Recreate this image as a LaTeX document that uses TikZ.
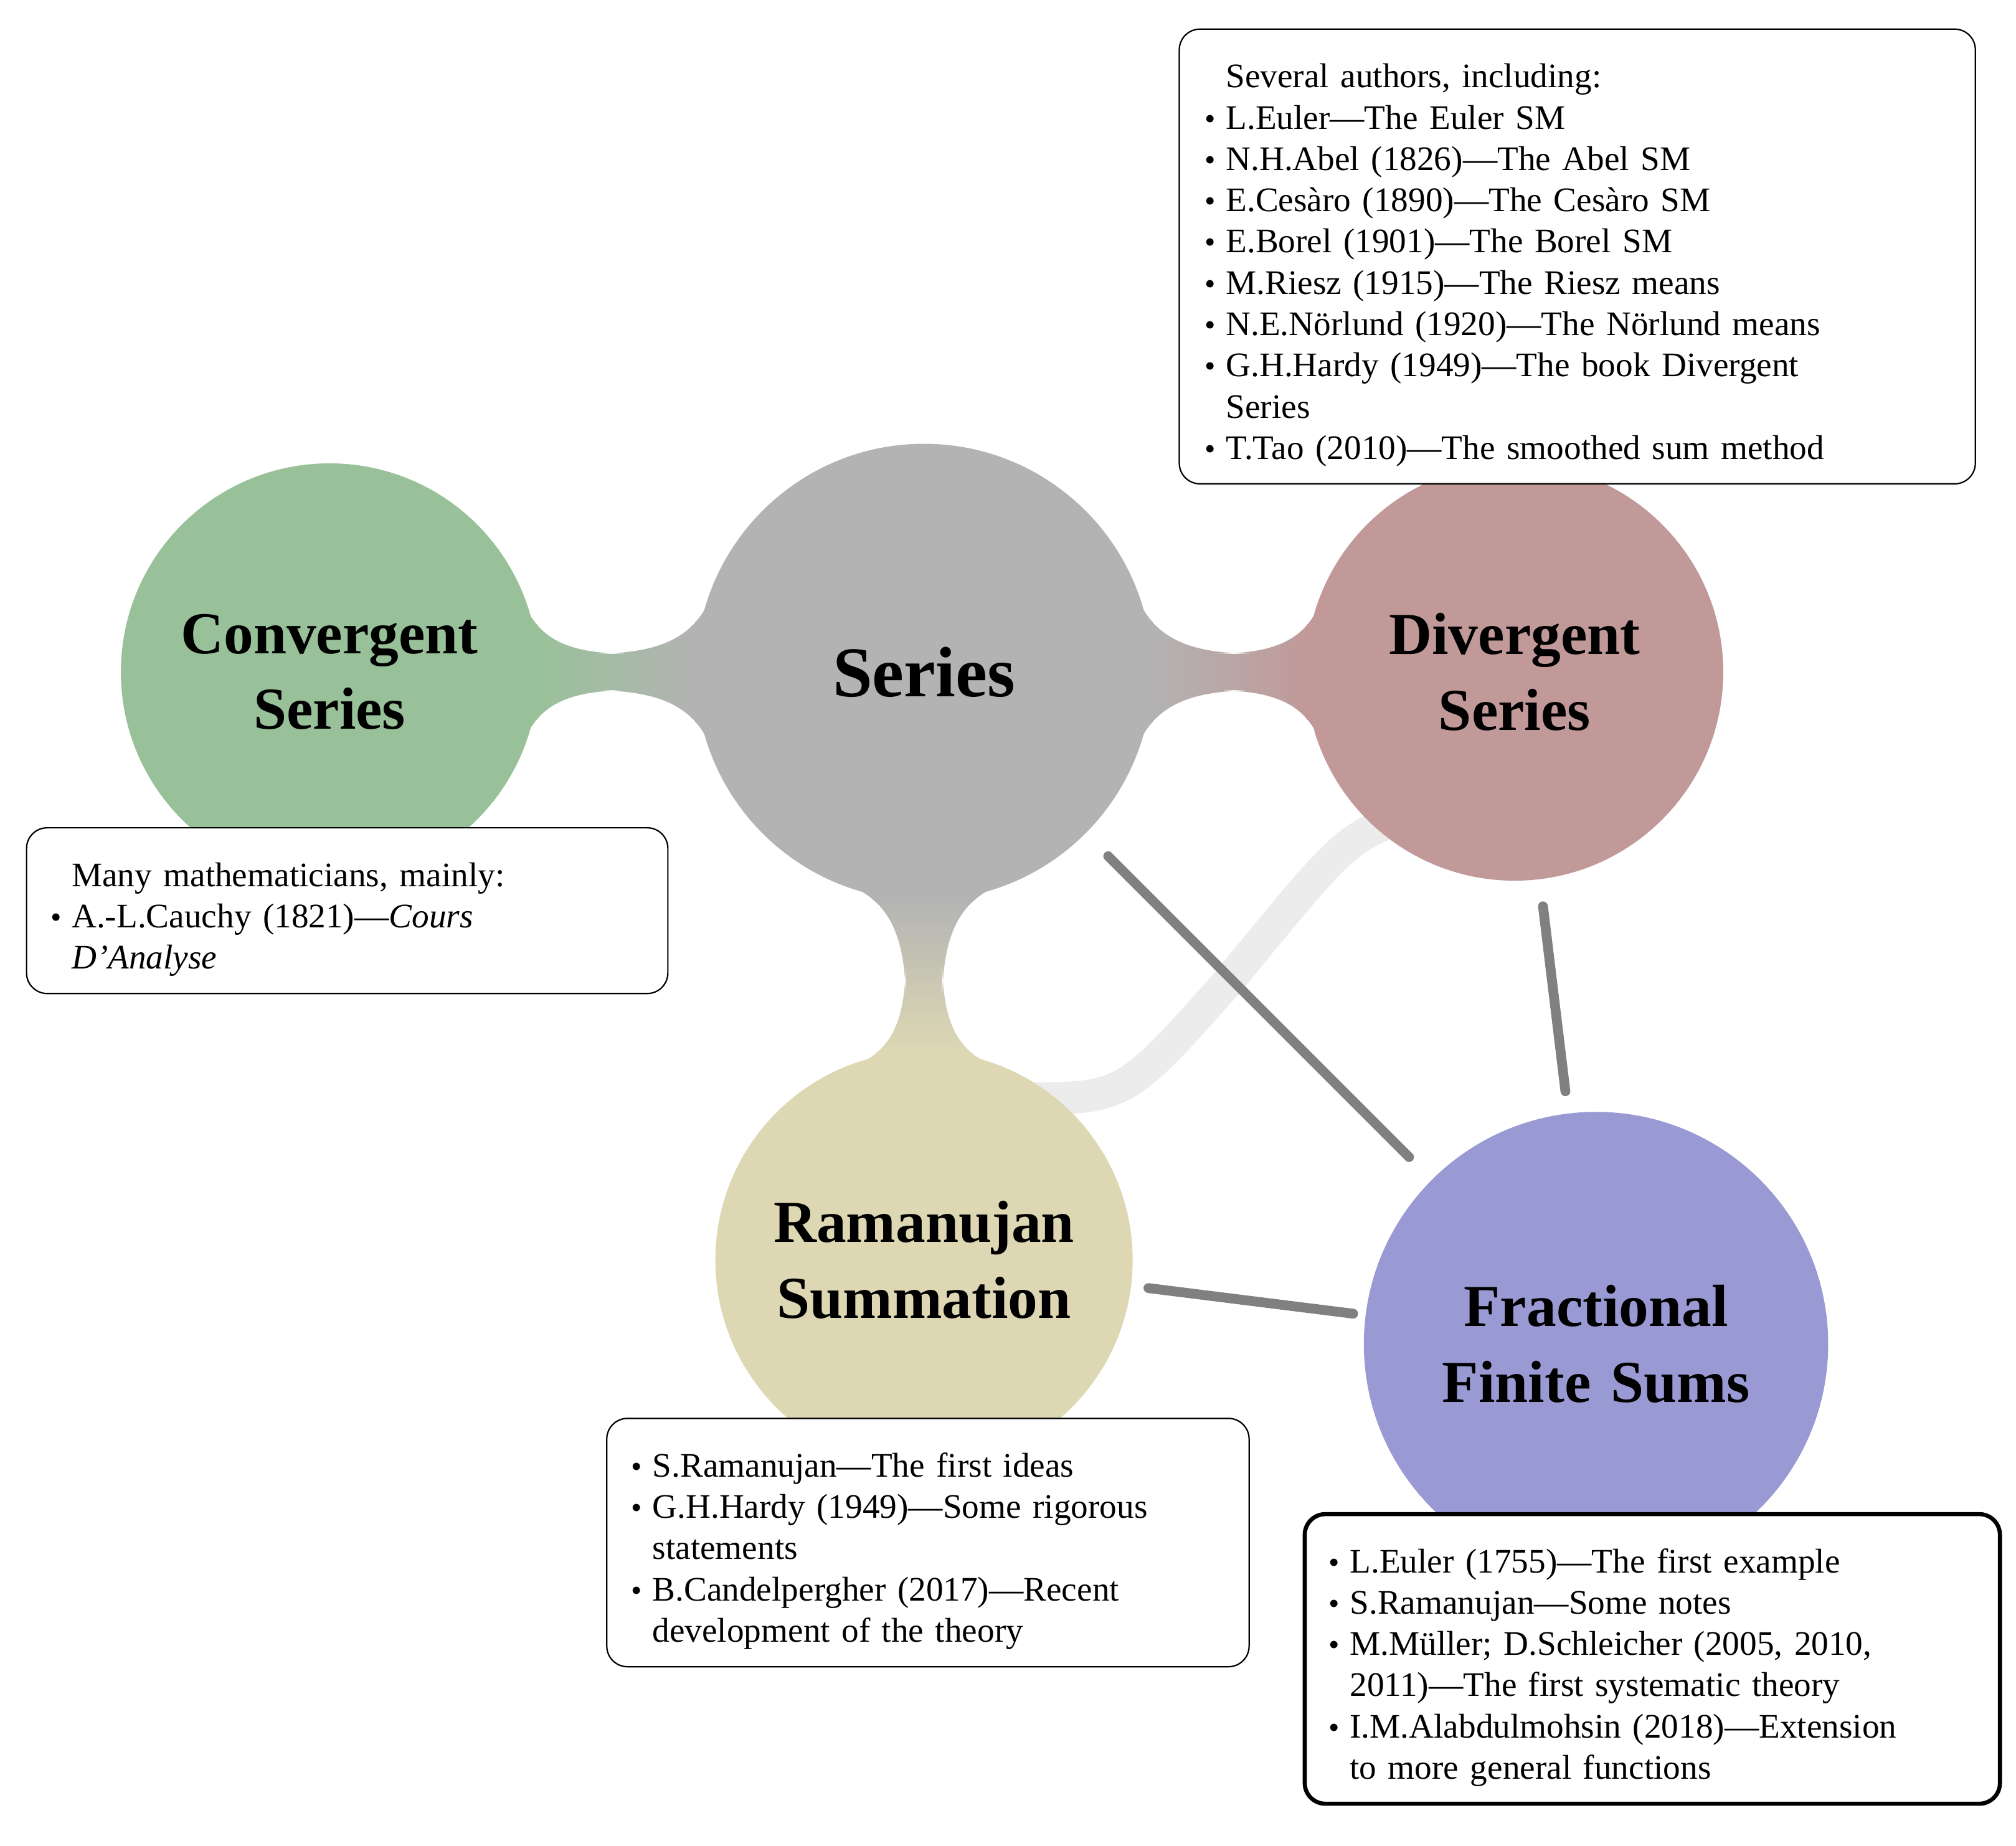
\documentclass[tikz,border=0pt]{standalone}
\usepackage{fontspec}
\setmainfont{Liberation Serif}
\usepackage{enumitem}
\usetikzlibrary{mindmap,positioning}
\definecolor{convcol}{RGB}{153,193,153}
\definecolor{sercol}{RGB}{179,179,179}
\definecolor{divcol}{RGB}{193,153,153}
\definecolor{ramcol}{RGB}{221,216,179}
\definecolor{fraccol}{RGB}{153,153,212}
\newcommand{\itlist}[1]{\raggedright\begin{itemize}[nosep,leftmargin=1.1em,labelsep=0.3em,label=\small\textbullet]#1\end{itemize}}
\begin{document}
\begin{tikzpicture}[x=0.0132cm,y=-0.0132cm,
        circ/.style={concept, text=black, text width=3.6cm, align=center, font=\LARGE\bfseries},
        infobox/.style={draw, rounded corners=6pt, fill=white, anchor=north west, inner xsep=2pt, inner ysep=5pt, align=left, font=\normalsize},
        link/.style={line width=0.1cm, black!50, line cap=round}
    ]
    \useasboundingbox (0,0) rectangle (1560,1428);

    % light bar behind
    \coordinate (lbA) at (1090,630);
    \coordinate (lbB) at (790,850);
    \draw[gray!15, line width=0.33cm] (lbA) .. controls (1040,650) .. (950,760) .. controls (870,850) .. (lbB);

    \begin{scope}[mindmap]
    % Concepts
    \node[circ, concept color=sercol, minimum size=4.62cm, font=\huge\bfseries] (S) at (715,520) {Series};
    \node[circ, concept color=convcol, minimum size=4.22cm] (C) at (255,520) {Convergent\\Series};
    \node[circ, concept color=divcol, minimum size=4.22cm] (D) at (1172,520) {Divergent\\Series};
    \node[circ, concept color=ramcol, minimum size=4.22cm] (R) at (715,975) {Ramanujan\\Summation};
    \node[circ, concept color=fraccol, minimum size=4.7cm] (F) at (1235,1040) {Fractional\\Finite Sums};

    % Bars
    \path (C) to[circle connection bar switch color=from (convcol) to (sercol)] (S);
    \path (S) to[circle connection bar switch color=from (sercol) to (divcol)] (D);
    \path (S) to[circle connection bar switch color=from (sercol) to (ramcol)] (R);
    \end{scope}

    % Links
    \draw[link, shorten <=0.35cm, shorten >=0.35cm] (S) -- (F);
    \draw[link, shorten <=0.3cm, shorten >=0.25cm] (D) -- (F);
    \draw[link, shorten <=0.2cm, shorten >=0.15cm] (R) -- (F);

    % Boxes
    \node[infobox, minimum width=8.13cm, text width=7.95cm] (bD) at (912,22) {\itlist{\item[] Several authors, including:
        \item L.Euler---The Euler SM
        \item N.H.Abel (1826)---The Abel SM
        \item E.Ces\`aro (1890)---The Ces\`aro SM
        \item E.Borel (1901)---The Borel SM
        \item M.Riesz (1915)---The Riesz means
        \item N.E.N\"orlund (1920)---The N\"orlund means
        \item G.H.Hardy (1949)---The book Divergent\\Series
        \item T.Tao (2010)---The smoothed sum method}};
    \node[infobox, minimum width=6.55cm, text width=6.4cm] (bC) at (20,640) {\itlist{\item[] Many mathematicians, mainly:
        \item A.-L.Cauchy (1821)---\textit{Cours\\D'Analyse}}};
    \node[infobox, minimum width=6.56cm, text width=6.4cm] (bR) at (469,1097) {\itlist{\item S.Ramanujan---The first ideas
        \item G.H.Hardy (1949)---Some rigorous\\statements
        \item B.Candelpergher (2017)---Recent\\development of the theory}};
    \node[infobox, line width=1.2pt, minimum width=7.1cm, text width=6.95cm] (bF) at (1008,1170) {\itlist{\item L.Euler (1755)---The first example
        \item S.Ramanujan---Some notes
        \item M.M\"uller; D.Schleicher (2005, 2010,\\2011)---The first systematic theory
        \item I.M.Alabdulmohsin (2018)---Extension\\to more general functions}};
\end{tikzpicture}
\end{document}
